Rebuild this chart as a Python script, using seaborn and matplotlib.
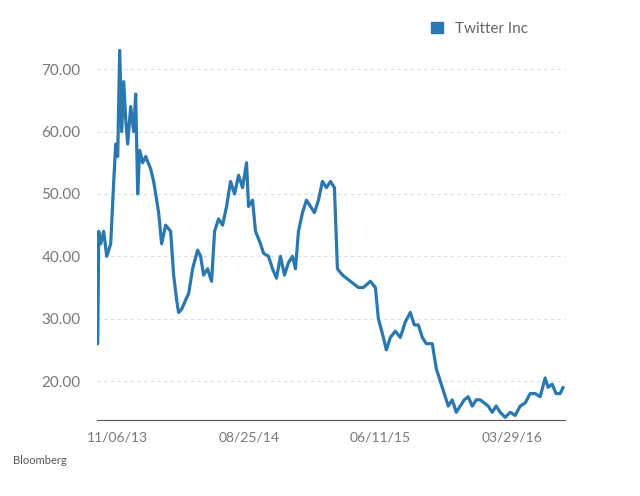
import pandas as pd
import numpy as np
import matplotlib.pyplot as plt
import matplotlib.dates as mdates
import seaborn as sns

OUT_PATH = 'out.png'
START = pd.Timestamp('2013-11-06')
DAYS_PER_PX = 292 / 132  # tick spacing

# (pixel offset from first tick, price)
TRACE = [
    (-20, 26), (-19, 44), (-17, 42), (-14, 44), (-11, 40), (-7, 42), (-4, 52), (-2, 58),
    (0, 56), (2, 73), (4, 60), (6, 68), (8, 62), (10, 58), (13, 64), (16, 60), (18, 66),
    (20, 50), (22, 57), (25, 55), (28, 56), (33, 54), (36, 52), (41, 47), (44, 42),
    (48, 45), (53, 44), (56, 37), (59, 33), (61, 31), (64, 31.5), (68, 33), (71, 34),
    (75, 38), (80, 41), (83, 40), (86, 37), (90, 38), (94, 36), (97, 44), (101, 46),
    (105, 45), (109, 48), (113, 52), (117, 50), (121, 53), (125, 51), (129, 55),
    (131, 48), (135, 49), (138, 44), (143, 42), (146, 40.5), (151, 40), (155, 38),
    (159, 36.5), (163, 40), (167, 37), (171, 39), (175, 40), (178, 38), (181, 44),
    (185, 47), (189, 49), (193, 48), (197, 47), (201, 49), (205, 52), (209, 51),
    (213, 52), (217, 51), (220, 38), (225, 37), (233, 36), (241, 35), (246, 35),
    (253, 36), (258, 35), (261, 30), (266, 27), (269, 25), (273, 27), (278, 28),
    (283, 27), (288, 29.5), (293, 31), (297, 29), (301, 29), (305, 27), (309, 26),
    (315, 26), (319, 22), (323, 20), (327, 18), (331, 16), (335, 17), (339, 15),
    (343, 16), (347, 17), (351, 17.5), (355, 16), (359, 17), (363, 17), (367, 16.5),
    (371, 16), (375, 15), (379, 16), (383, 15), (388, 14.2), (393, 15), (398, 14.5),
    (403, 16), (408, 16.5), (413, 18), (418, 18), (423, 17.5), (428, 20.5), (431, 19),
    (435, 19.5), (439, 18), (443, 18), (446, 19),
]
TICKS = ['2013-11-06', '2014-08-25', '2015-06-11', '2016-03-29']


def plot_price():
    df = pd.DataFrame(TRACE, columns=['px', 'price'])
    df['date'] = START + pd.to_timedelta(df['px'] * DAYS_PER_PX, unit='D')

    sns.set_style('white')
    plt.rcParams['font.family'] = ['Lato', 'DejaVu Sans']
    fig = plt.figure(figsize=(6.4, 4.96), dpi=100)
    ax = fig.add_axes([0.152, 0.153, 0.731, 0.807])

    sns.lineplot(data=df, x='date', y='price', ax=ax, color='#2a78b0', linewidth=2.3,
                 label='Twitter Inc')

    ax.set_xlim(START - pd.Timedelta(days=20 * DAYS_PER_PX + 1),
                START + pd.Timedelta(days=448 * DAYS_PER_PX))
    ax.set_ylim(13.75, 77.9)
    ax.set_yticks([20, 30, 40, 50, 60, 70])
    ax.yaxis.set_major_formatter(plt.FuncFormatter(lambda v, p: f'{v:.2f}'))
    ax.set_xticks(pd.to_datetime(TICKS))
    ax.xaxis.set_major_formatter(mdates.DateFormatter('%m/%d/%y'))
    ax.grid(axis='y', color='#dddddd', linestyle=(0, (3, 3)), linewidth=0.8)
    for s in ['top', 'right', 'left']:
        ax.spines[s].set_visible(False)
    ax.spines['bottom'].set_color('#555555')
    ax.tick_params(axis='y', colors='#777777', labelsize=11, length=0, pad=12)
    ax.tick_params(axis='x', colors='#777777', labelsize=10, length=0, pad=8)
    ax.set_xlabel('')
    ax.set_ylabel('')

    ax.legend(loc='upper right', bbox_to_anchor=(0.95, 1.03), frameon=False, fontsize=11,
              handlelength=0.8, handleheight=0.8, labelcolor='#666666',
              handles=[plt.Rectangle((0, 0), 1, 1, color='#2a78b0')], labels=['Twitter Inc'])
    fig.text(0.02, 0.065, 'Bloomberg', fontsize=8, color='#555555')

    fig.savefig(OUT_PATH)


if __name__ == "__main__":
    plot_price()
